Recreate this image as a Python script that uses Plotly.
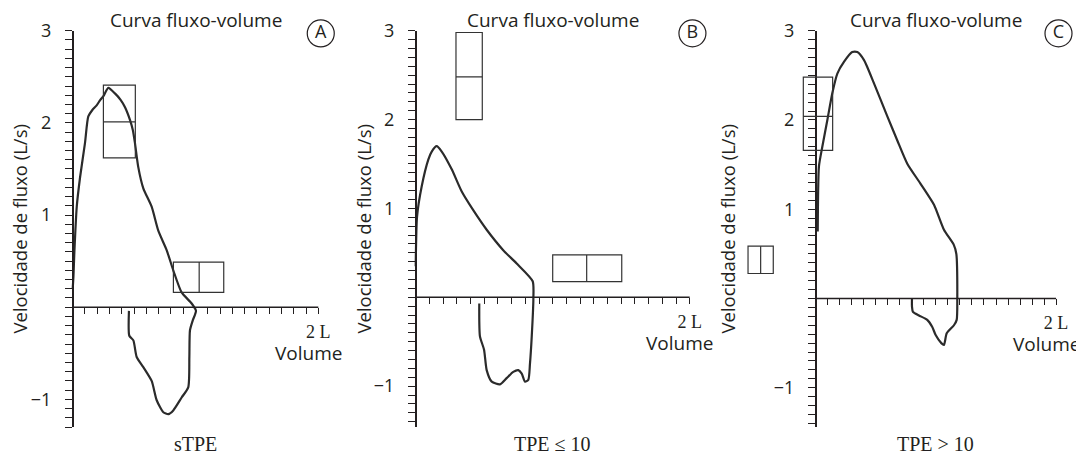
import plotly.graph_objects as go

OFF = 8                      # page body margin offset (px)
W, H = 1084 - OFF, 455 - OFF

# ---------------- data ----------------
panel_names = ["A", "B", "C"]
bottom_labels = ["sTPE", "TPE \u2264 10", "TPE > 10"]
title_text = "Curva fluxo-volume"
y_title = "Velocidade de fluxo (L/s)"

# Panel A curve (volume L, flow L/s)
xA = [0.0, 0.006, 0.013, 0.033, 0.06, 0.10, 0.127, 0.16, 0.195, 0.225, 0.25, 0.29, 0.344, 0.39,
      0.426, 0.467, 0.49, 0.507, 0.534, 0.575, 0.643, 0.697, 0.765, 0.819, 0.887, 0.969, 1.004,
      0.977, 0.955, 0.95, 0.941, 0.887, 0.819, 0.779, 0.738, 0.684, 0.643, 0.575, 0.521, 0.494,
      0.461, 0.458]
yA = [0.2, 0.33, 0.58, 1.09, 1.41, 1.78, 2.07, 2.14, 2.19, 2.25, 2.29, 2.38, 2.32, 2.25,
      2.17, 2.03, 1.92, 1.78, 1.52, 1.29, 1.09, 0.83, 0.62, 0.40, 0.16, 0.04, -0.04,
      -0.145, -0.25, -0.54, -0.87, -0.98, -1.12, -1.16, -1.14, -1.01, -0.80, -0.65, -0.54, -0.36,
      -0.31, -0.04]

# Panel B curve
xB = [0.0, 0.01, 0.044, 0.092, 0.117, 0.153, 0.19, 0.263, 0.336, 0.42, 0.518, 0.639, 0.737,
      0.854, 0.859, 0.847, 0.834, 0.822, 0.798, 0.774, 0.749, 0.712, 0.664, 0.615, 0.555,
      0.518, 0.499, 0.469, 0.464]
yB = [0.35, 0.91, 1.25, 1.55, 1.64, 1.70, 1.64, 1.44, 1.19, 0.98, 0.76, 0.53, 0.38,
      0.18, -0.01, -0.44, -0.75, -0.93, -0.95, -0.86, -0.82, -0.84, -0.91, -0.98, -0.95,
      -0.82, -0.59, -0.44, -0.07]

# Panel C curve
xC = [0.017, 0.027, 0.055, 0.097, 0.138, 0.18, 0.235, 0.304, 0.346, 0.402, 0.485, 0.596, 0.679,
      0.762, 0.87, 0.984, 1.067, 1.149, 1.17, 1.178, 1.173, 1.15, 1.09, 1.067, 1.045, 0.998,
      0.97, 0.928, 0.859, 0.809, 0.801, 0.801]
yC = [0.75, 1.48, 1.70, 2.0, 2.30, 2.52, 2.65, 2.76, 2.76, 2.67, 2.41, 2.04, 1.77,
      1.51, 1.29, 1.05, 0.77, 0.60, 0.50, 0.0, -0.24, -0.30, -0.39, -0.52, -0.50, -0.41,
      -0.32, -0.24, -0.19, -0.15, -0.09, 0.0]

# Reference boxes: [x0, x1, y0, y1, divider orientation, divider value]
boxesA = [[0.25, 0.51, 1.62, 2.41, "h", 2.01], [0.82, 1.23, 0.16, 0.49, "v", 1.03]]
boxesB = [[0.294, 0.486, 2.0, 2.98, "h", 2.48], [1.0, 1.504, 0.176, 0.477, "v", 1.248]]
boxesC = [[-0.103, 0.141, 1.66, 2.48, "h", 2.04], [-0.563, -0.353, 0.28, 0.586, "v", -0.458]]

y_tickvals = [-1, 1, 2, 3]
y_ticktext = ["\u22121", "1", "2", "3"]
x_tickvals = [round(0.1 * i, 1) for i in range(1, 21)]
x_ticktext = [""] * 19 + ["2 L"]

# ---------------- layout geometry (reference pixels) ----------------
origins_px = [72.7, 415.7, 815.7]   # x pixel of volume 0
scales_px = [122.8, 137.0, 120.2]   # pixels per litre
x_ranges = [[-0.5, 2.2], [-0.5, 2.2], [-0.65, 2.2]]
y_ranges = [[-1.3, 3], [-1.46, 3], [-1.44, 3]]
ytop_px, ybot_px = 30.7, 427.0
ytitle_x_px = [19, 363, 727]


def fx(px):
    return (px - OFF) / W


def fy(py):
    return (H - (py - OFF)) / H


ydom = [fy(ybot_px), fy(ytop_px)]

ink = "#231f20"
sans = "Open Sans"
serif = "Liberation Serif"

curves = [(xA, yA), (xB, yB), (xC, yC)]
boxes = [boxesA, boxesB, boxesC]

fig = go.Figure()
shapes = []
annotations = []
layout = {}

for i in range(3):
    sfx = "" if i == 0 else str(i + 1)
    xr, yr = x_ranges[i], y_ranges[i]
    x0px = origins_px[i] + scales_px[i] * xr[0]
    x1px = origins_px[i] + scales_px[i] * xr[1]
    xdom = [fx(x0px), fx(x1px)]
    y_axis_pos = xdom[0] + (0 - xr[0]) / (xr[1] - xr[0]) * (xdom[1] - xdom[0])
    x_axis_pos = ydom[0] + (0 - yr[0]) / (yr[1] - yr[0]) * (ydom[1] - ydom[0])

    layout["xaxis" + sfx] = dict(
        domain=xdom, range=xr, anchor="free", position=x_axis_pos, automargin=False,
        showline=False, showgrid=False, zeroline=False,
        tickmode="array", tickvals=x_tickvals, ticktext=x_ticktext,
        ticks="outside", ticklen=6, tickwidth=1.3, tickcolor=ink,
        tickfont=dict(family=serif, size=18, color=ink), ticklabelstandoff=2,
        fixedrange=True,
    )
    layout["yaxis" + sfx] = dict(
        domain=ydom, range=yr, anchor="free", position=y_axis_pos, automargin=False,
        showline=True, linecolor=ink, linewidth=1.5,
        showgrid=False, zeroline=False,
        tickmode="array", tickvals=y_tickvals, ticktext=y_ticktext,
        ticks="outside", ticklen=7, tickwidth=1.3, tickcolor=ink,
        tickfont=dict(family=sans, size=18, color=ink), ticklabelstandoff=10,
        minor=dict(tickmode="linear", tick0=0, dtick=0.1, ticks="outside",
                   ticklen=7, tickwidth=1.1, tickcolor=ink),
        fixedrange=True,
    )
    xref, yref = "x" + sfx, "y" + sfx

    # x axis line from 0 to 2 L
    shapes.append(dict(type="line", xref=xref, yref=yref, x0=0, x1=2, y0=0, y1=0,
                       line=dict(color=ink, width=1.5)))

    # curve
    cx, cy = curves[i]
    fig.add_trace(go.Scatter(x=cx, y=cy, mode="lines", xaxis=xref, yaxis=yref,
                             line=dict(color="#2b2b2b", width=2.2, shape="spline", smoothing=0.6),
                             showlegend=False, hoverinfo="skip"))

    # boxes
    for b in boxes[i]:
        bx0, bx1, by0, by1, ori, val = b
        shapes.append(dict(type="rect", xref=xref, yref=yref, x0=bx0, x1=bx1, y0=by0, y1=by1,
                           line=dict(color="#333333", width=1.2)))
        if ori == "h":
            shapes.append(dict(type="line", xref=xref, yref=yref, x0=bx0, x1=bx1, y0=val, y1=val,
                               line=dict(color="#333333", width=1.2)))
        else:
            shapes.append(dict(type="line", xref=xref, yref=yref, x0=val, x1=val, y0=by0, y1=by1,
                               line=dict(color="#333333", width=1.2)))

    # circled panel letter
    fig.add_trace(go.Scatter(x=[2.02], y=[2.97], mode="markers+text", xaxis=xref, yaxis=yref,
                             text=[panel_names[i]], textposition="middle center",
                             textfont=dict(family=sans, size=18, color=ink),
                             marker=dict(symbol="circle-open", size=27, color=ink,
                                         line=dict(width=1.2, color=ink)),
                             cliponaxis=False, showlegend=False, hoverinfo="skip"))

    # title
    annotations.append(dict(text=title_text, xref=xref, x=1.0, yref="paper", y=fy(20),
                            xanchor="center", yanchor="middle", showarrow=False,
                            font=dict(family=sans, size=19, color=ink)))
    # bottom label
    annotations.append(dict(text=bottom_labels[i], xref=xref, x=1.0, yref="paper", y=fy(444),
                            xanchor="center", yanchor="middle", showarrow=False,
                            font=dict(family=serif, size=20, color=ink)))
    # Volume label
    annotations.append(dict(text="Volume", xref=xref, x=2.0, xshift=-10, yref="paper", y=x_axis_pos,
                            yshift=-46, xanchor="center", yanchor="middle", showarrow=False,
                            font=dict(family=sans, size=19, color=ink)))
    # y axis title
    annotations.append(dict(text=y_title, xref="paper", x=fx(ytitle_x_px[i]), yref="paper",
                            y=fy(229.5), textangle=-90, xanchor="center", yanchor="middle",
                            showarrow=False, font=dict(family=sans, size=18.5, color=ink)))

fig.update_layout(width=W, height=H, margin=dict(l=0, r=0, t=0, b=0, autoexpand=False),
                  paper_bgcolor="white", plot_bgcolor="white",
                  shapes=shapes, annotations=annotations, showlegend=False, **layout)

fig.write_html("out.html")
